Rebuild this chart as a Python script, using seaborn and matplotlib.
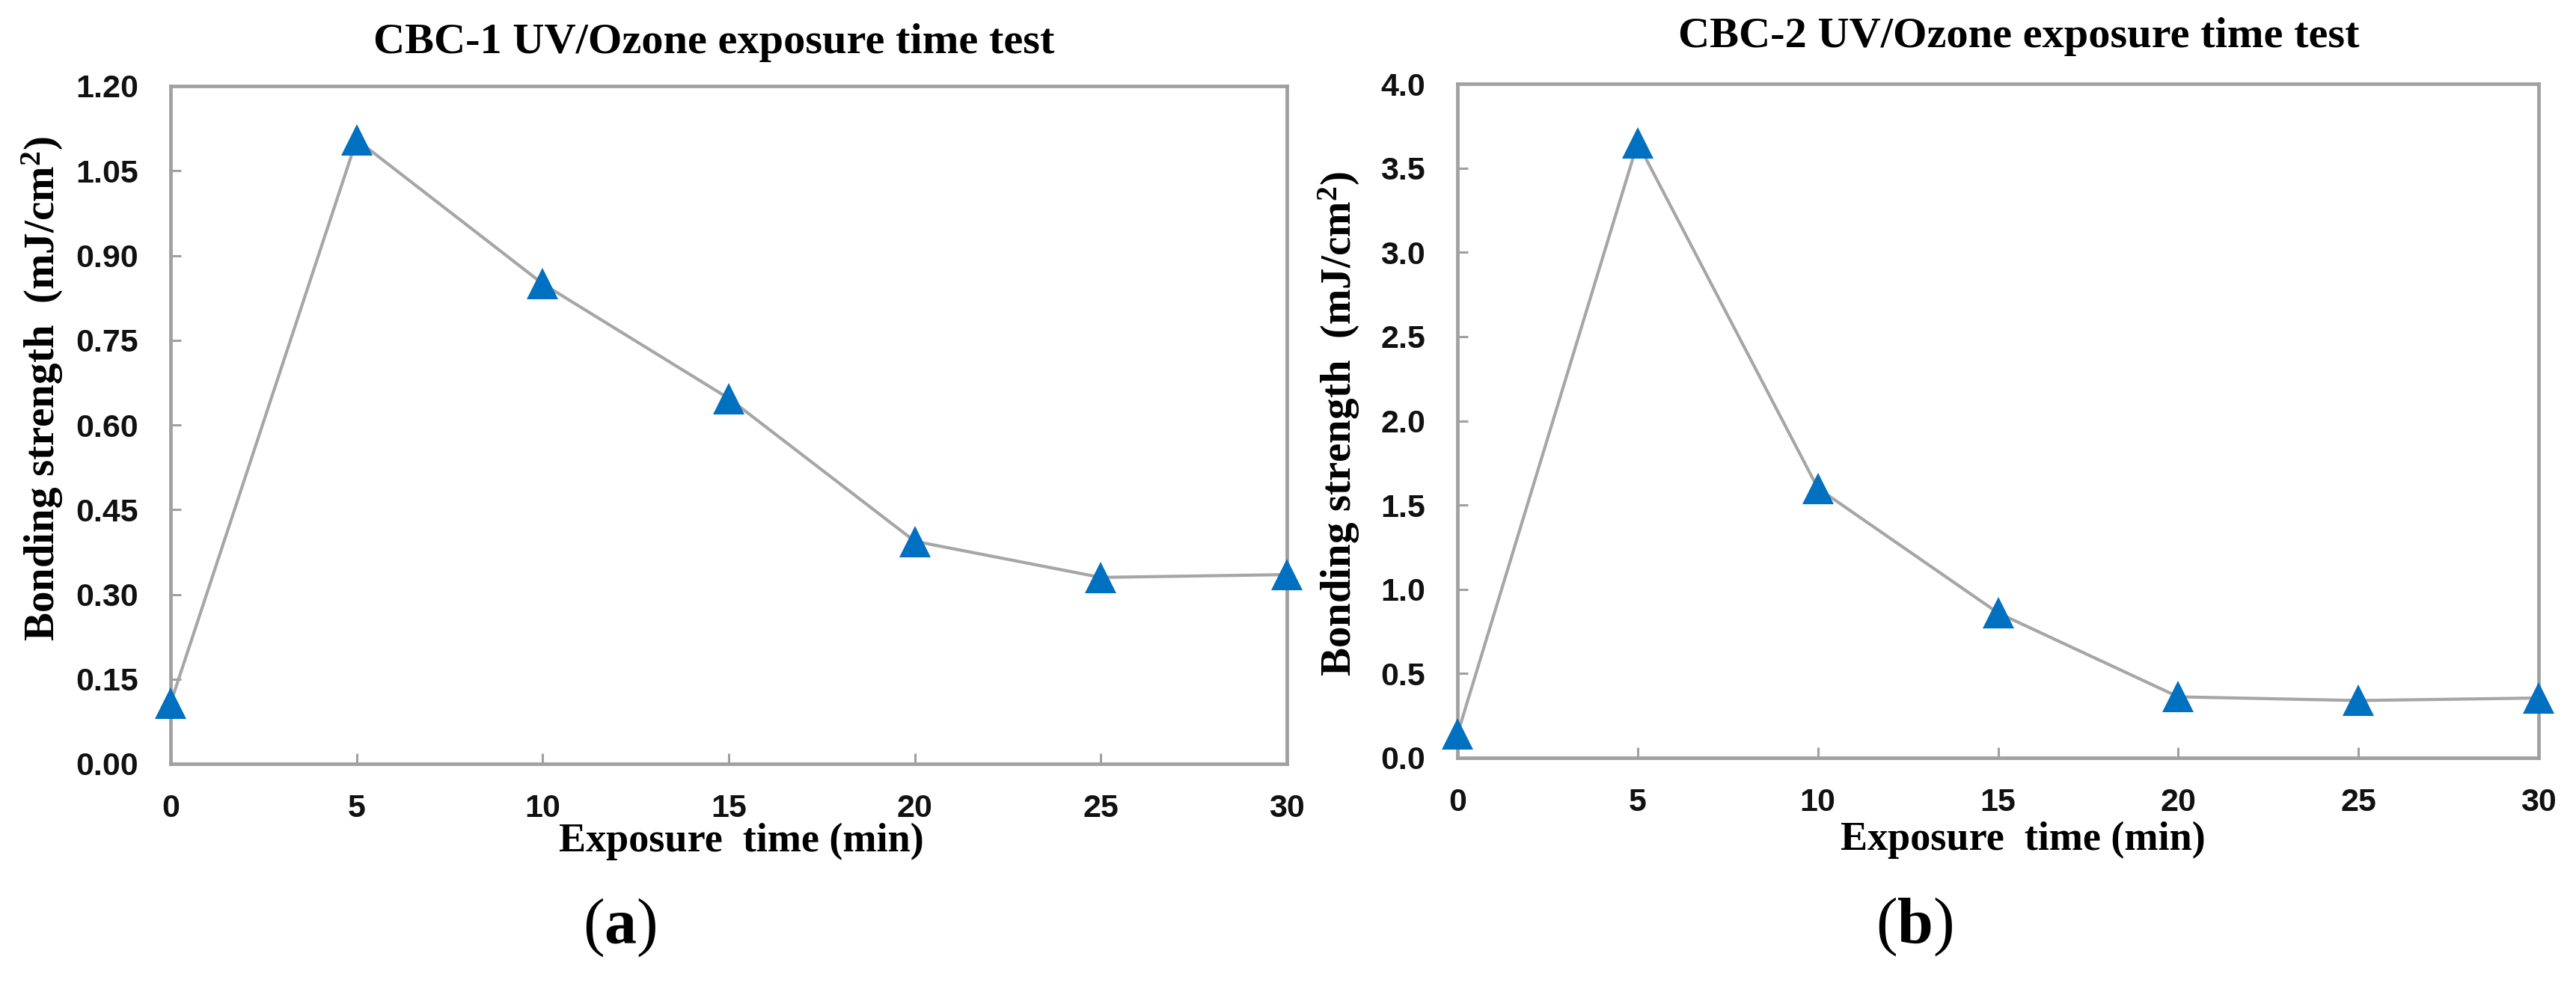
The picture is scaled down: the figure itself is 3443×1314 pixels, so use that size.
import numpy as np
import pandas as pd
import seaborn as sns
import matplotlib
matplotlib.use("Agg")
import matplotlib.pyplot as plt
from matplotlib.ticker import FormatStrFormatter, MultipleLocator

# ---------------- data ----------------
exposure_time = [0, 5, 10, 15, 20, 25, 30]
cbc1_strength = [0.107, 1.105, 0.850, 0.647, 0.394, 0.330, 0.335]
cbc2_strength = [0.140, 3.650, 1.600, 0.860, 0.362, 0.340, 0.355]

titles = ["CBC-1 UV/Ozone exposure time test", "CBC-2 UV/Ozone exposure time test"]
xlabel = "Exposure  time (min)"
ylabel = "Bonding strength  (mJ/cm$^{\\mathbf{2}}$)"
panel_labels = ["a", "b"]

# ---------------- style ----------------
sns.set_theme(style="white")
tick_family = ["Liberation Sans", "DejaVu Sans"]
serif = "Liberation Serif"
plt.rcParams["font.family"] = [serif, "DejaVu Serif"]
plt.rcParams["mathtext.fontset"] = "custom"
plt.rcParams["mathtext.rm"] = "Liberation Serif"
plt.rcParams["mathtext.bf"] = "Liberation Serif:bold"
plt.rcParams["mathtext.it"] = "Liberation Serif:italic"

SPINE = "#A0A0A0"
LINE = "#A6A6A6"
MARK = "#0070C0"

fig = plt.figure(figsize=(34.43, 13.14), dpi=100)
axes_rects = [
    [228 / 3443, 1 - 1021 / 1314, 1492 / 3443, 906 / 1314],
    [1948 / 3443, 1 - 1013 / 1314, 1445 / 3443, 901 / 1314],
]
series = [cbc1_strength, cbc2_strength]
ylims = [(0, 1.2), (0, 4.0)]
ysteps = [0.15, 0.5]
yfmts = ["%.2f", "%.1f"]
tick_fs = 31
ylabel_pos = [(-0.0945, 0.554), (-0.0886, 0.496)]
xlabel_pos = [(0.511, -0.087), (0.523, -0.094)]
title_pos = [(0.487, 1.0486), (0.519, 1.054)]
panel_pos = [(0.2405, 0.0563), (0.7432, 0.0571)]

for i in range(2):
    ax = fig.add_axes(axes_rects[i])
    df = pd.DataFrame({"t": exposure_time, "s": series[i]})
    sns.lineplot(data=df, x="t", y="s", ax=ax, color=LINE, linewidth=3.0,
                 marker="^", markersize=30, markerfacecolor=MARK,
                 markeredgewidth=0, clip_on=False, zorder=3)
    ax.set_xlim(0, 30)
    ax.set_ylim(*ylims[i])
    ax.xaxis.set_major_locator(MultipleLocator(5))
    ax.yaxis.set_major_locator(MultipleLocator(ysteps[i]))
    ax.yaxis.set_major_formatter(FormatStrFormatter(yfmts[i]))
    for sp in ax.spines.values():
        sp.set_color(SPINE)
        sp.set_linewidth(3.4)
        sp.set_visible(True)
    ax.tick_params(axis="both", direction="in", length=10, width=2.2,
                   color=SPINE, labelsize=tick_fs, labelcolor="#111111",
                   bottom=True, left=True, top=False, right=False)
    ax.tick_params(axis="y", pad=31)
    ax.tick_params(axis="x", pad=29)
    for lab in ax.get_xticklabels() + ax.get_yticklabels():
        lab.set_family(tick_family)
        lab.set_fontweight("bold")
    ax.set_xlabel(xlabel, fontsize=39, fontweight="bold", color="black")
    ax.set_ylabel(ylabel, fontsize=41, fontweight="bold", color="black")
    ax.xaxis.set_label_coords(*xlabel_pos[i])
    ax.yaxis.set_label_coords(*ylabel_pos[i])
    ax.grid(False)
    ax.text(title_pos[i][0], title_pos[i][1], titles[i], transform=ax.transAxes,
            ha="center", va="baseline", fontsize=42, fontweight="bold", color="black")
    fig.text(panel_pos[i][0], panel_pos[i][1], "($\\mathbf{" + panel_labels[i] + "}$)",
             ha="center", va="center", fontsize=62, color="black")

fig.savefig("out.png", dpi=100, facecolor="white")
